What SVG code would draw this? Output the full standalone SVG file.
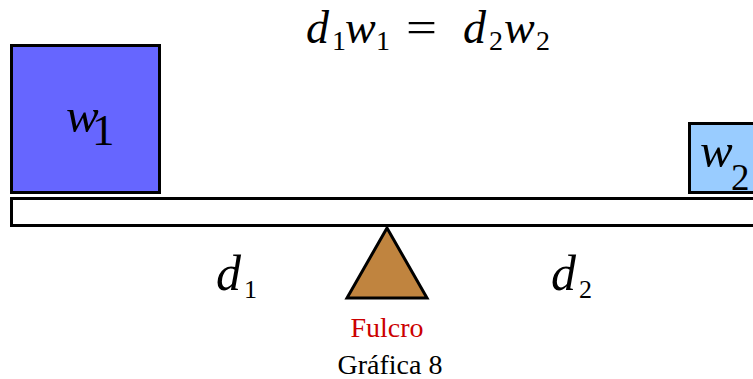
<svg xmlns="http://www.w3.org/2000/svg" width="753" height="379" viewBox="0 0 753 379">
<style>
.shape{stroke:#000;stroke-width:3}
.t{font-family:"Liberation Serif","Times New Roman",serif;fill:#000}
.i{font-style:italic}
</style>
<rect width="753" height="379" fill="#fff"/>
<g id="formula" class="t">
<text x="306" y="43" font-size="46" class="i">d</text>
<text x="332" y="50" font-size="28">1</text>
<text x="345" y="43" font-size="46" class="i">w</text>
<text x="376" y="50" font-size="28">1</text>
<text x="406" y="42" font-size="44" textLength="31" lengthAdjust="spacingAndGlyphs">=</text>
<text x="463" y="43" font-size="46" class="i">d</text>
<text x="489" y="50" font-size="28">2</text>
<text x="504" y="43" font-size="46" class="i">w</text>
<text x="536" y="50" font-size="28">2</text>
</g>
<g id="beam">
<rect class="shape" x="11.5" y="198.5" width="800" height="27" fill="#fff"/>
</g>
<g id="w1">
<rect class="shape" x="11.5" y="45.5" width="148" height="147" fill="#6666FF"/>
<text class="t i" x="66" y="132" font-size="49">w</text>
<text class="t" x="92" y="145" font-size="45">1</text>
</g>
<g id="w2">
<rect class="shape" x="689.5" y="123.5" width="100" height="69" fill="#99CCFF"/>
<text class="t i" x="700" y="167" font-size="49">w</text>
<text class="t" x="731" y="190" font-size="37">2</text>
</g>
<g id="fulcrum">
<polygon class="shape" points="387,228 347,298 427,298" fill="#C0843F" stroke-linejoin="miter"/>
<text class="t" x="387" y="337" font-size="28" text-anchor="middle" style="fill:#CC0000">Fulcro</text>
</g>
<g id="d1" class="t">
<text x="216" y="290" font-size="50" class="i">d</text>
<text x="244" y="298" font-size="26">1</text>
</g>
<g id="d2" class="t">
<text x="551" y="290" font-size="50" class="i">d</text>
<text x="579" y="298" font-size="26">2</text>
</g>
<g id="caption">
<text class="t" x="390" y="374" font-size="28" text-anchor="middle">Gráfica 8</text>
</g>
</svg>
